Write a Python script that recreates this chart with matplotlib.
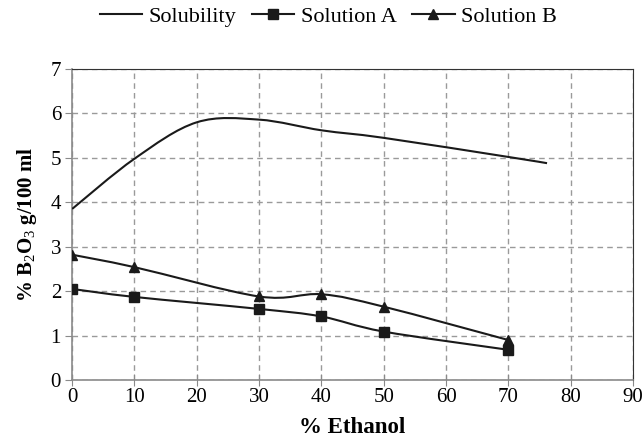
import matplotlib.pyplot as plt
from matplotlib.path import Path
from matplotlib.patches import PathPatch
from matplotlib.lines import Line2D

plt.rcParams['font.family'] = ['Liberation Serif', 'DejaVu Serif']
plt.rcParams['mathtext.fontset'] = 'custom'
plt.rcParams['mathtext.rm'] = 'Liberation Serif'
plt.rcParams['mathtext.bf'] = 'Liberation Serif:bold'

# values
sol_x = [0, 10, 20, 30, 40, 50, 70, 76.2]
sol_y = [3.85, 4.98, 5.8, 5.86, 5.62, 5.45, 5.02, 4.88]

a_x = [0, 10, 30, 40, 50, 70]
a_y = [2.05, 1.87, 1.6, 1.43, 1.09, 0.68]

b_x = [0, 10, 30, 40, 50, 70]
b_y = [2.82, 2.54, 1.88, 1.93, 1.65, 0.9]

xticks = list(range(0, 91, 10))
yticks = list(range(0, 8))

INK = '#1a1a1a'


def smooth_path(xs, ys):
    # excel-like smoothed line: cubic bezier segments, catmull-rom tangents
    pts = list(zip(xs, ys))
    n = len(pts)
    verts = [pts[0]]
    codes = [Path.MOVETO]
    for i in range(n - 1):
        p0 = pts[i - 1] if i > 0 else pts[i]
        p1 = pts[i]
        p2 = pts[i + 1]
        p3 = pts[i + 2] if i + 2 < n else pts[i + 1]
        c1 = (p1[0] + (p2[0] - p0[0]) / 6, p1[1] + (p2[1] - p0[1]) / 6)
        c2 = (p2[0] - (p3[0] - p1[0]) / 6, p2[1] - (p3[1] - p1[1]) / 6)
        verts += [c1, c2, p2]
        codes += [Path.CURVE4] * 3
    return Path(verts, codes)


fig = plt.figure(figsize=(6.44, 4.45), dpi=100)
ax = fig.add_axes([0.112, 0.146, 0.871, 0.699])

for xs, ys in [(sol_x, sol_y), (a_x, a_y), (b_x, b_y)]:
    ax.add_patch(PathPatch(smooth_path(xs, ys), fill=False, edgecolor=INK,
                           lw=1.5, zorder=3, capstyle='butt'))

ax.plot(a_x, a_y, ls='none', marker='s', ms=6.5, color=INK, zorder=4)
ax.plot(b_x, b_y, ls='none', marker='^', ms=7, color=INK, zorder=4)

ax.set_xlim(0, 90)
ax.set_ylim(0, 7)
ax.set_xticks(xticks)
ax.set_yticks(yticks)
ax.grid(True, color='#9a9a9a', ls=(0, (4, 3)), lw=1.0)
ax.set_axisbelow(True)

for s in ['left', 'bottom']:
    ax.spines[s].set_color('#8a8a8a')
    ax.spines[s].set_linewidth(1.2)
for s in ['top', 'right']:
    ax.spines[s].set_color('#333333')
    ax.spines[s].set_linewidth(0.8)

ax.tick_params(axis='x', direction='inout', length=8, color='#8a8a8a',
               labelsize=15, pad=2)
ax.tick_params(axis='y', direction='out', length=5, color='#8a8a8a',
               labelsize=15, pad=3)

ax.set_xlabel('% Ethanol', fontsize=16.5, fontweight='bold', labelpad=7)
ax.set_ylabel(r'% B$_\mathrm{2}$O$_\mathrm{3}$ g/100 ml', fontsize=15,
              fontweight='bold', labelpad=8)

handles = [
    Line2D([], [], color=INK, lw=1.5),
    Line2D([], [], color=INK, lw=1.5, marker='s', ms=6.5),
    Line2D([], [], color=INK, lw=1.5, marker='^', ms=7),
]
fig.legend(handles, ['Solubility', 'Solution A', 'Solution B'], ncol=3,
           loc='center', bbox_to_anchor=(0.51, 0.962), frameon=False,
           fontsize=16, handlelength=1.9, handletextpad=0.3,
           columnspacing=0.7)

fig.savefig('out.png', dpi=100)
